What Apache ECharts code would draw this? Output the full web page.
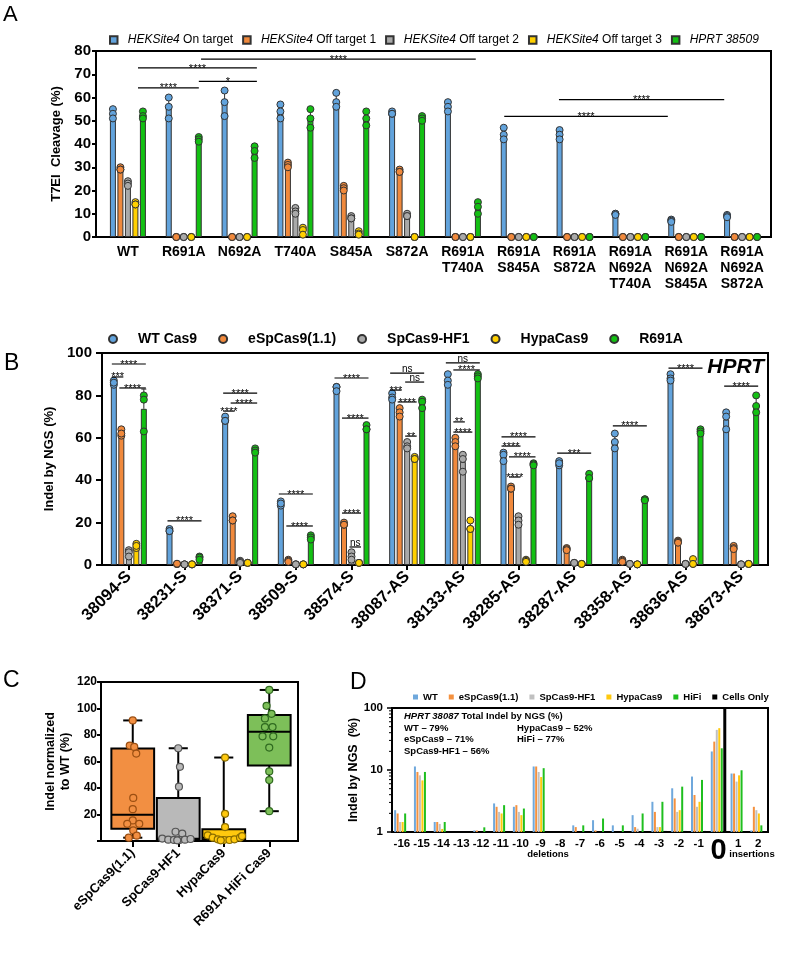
<!DOCTYPE html>
<html><head><meta charset="utf-8">
<script src="https://cdn.jsdelivr.net/npm/echarts@6/dist/echarts.min.js"></script>
<style>html,body{margin:0;padding:0;background:#fff}#c{width:800px;height:960px}</style>
</head><body><div id="c"></div>
<script>
const FONT = '"Liberation Sans", Arial, Helvetica, sans-serif';

// ---------------- Panel A data ----------------
const catsA = ['WT','R691A','N692A','T740A','S845A','S872A','R691A\nT740A','R691A\nS845A','R691A\nS872A','R691A\nN692A\nT740A','R691A\nN692A\nS845A','R691A\nN692A\nS872A'];
const namesA = ['HEKSite4 On target','HEKSite4 Off target 1','HEKSite4 Off target 2','HEKSite4 Off target 3','HPRT 38509'];
const aOnTarget = [[55,53,51],[60,56,51],[63,58,52],[57,54,51],[62,58,56],[54,53,53],[58,56,54],[47,44,42],[46,44,42],[10,10,9.5],[7.5,7,6.5],[9.5,9,8.5]];
const aOff1 = [[30,29,29],[0,0,0],[0,0,0],[32,31,30],[22,21,20],[29,28,28],[0,0,0],[0,0,0],[0,0,0],[0,0,0],[0,0,0],[0,0,0]];
const aOff2 = [[24,23,22],[0,0,0],[0,0,0],[12.5,11,10],[9,8,8],[10,9,9],[0,0,0],[0,0,0],[0,0,0],[0,0,0],[0,0,0],[0,0,0]];
const aOff3 = [[15,14,14],[0,0,0],[0,0,0],[4,3,1],[2.5,1.5,1],[0,0,0],[0,0,0],[0,0,0],[0,0,0],[0,0,0],[0,0,0],[0,0,0]];
const aHprt = [[54,52,51],[43,42,41],[39,37,34],[55,51,47],[54,51,48],[52,51,50],[15,13,10],[0,0,0],[0,0,0],[0,0,0],[0,0,0],[0,0,0]];
const yTicksA = {min:0, max:80, interval:10};
// significance bars: [from (category units), to (category units), value, label]
const sigA = [[0.18,1.27,64.1,'****'],[0.18,2.31,72.7,'****'],[1.27,2.31,66.9,'*'],[1.31,6.23,76.5,'****'],[6.74,9.67,51.9,'****'],[7.72,10.68,59.1,'****']];

// ---------------- Panel B data ----------------
const catsB = ['38094-S','38231-S','38371-S','38509-S','38574-S','38087-AS','38133-AS','38285-AS','38287-AS','38358-AS','38636-AS','38673-AS'];
const namesB = ['WT Cas9','eSpCas9(1.1)','SpCas9-HF1','HypaCas9','R691A'];
const bWT = [[87,85,86],[17,16,16],[70,68,68],[30,28,29],[84,84,82],[81,79,78],[90,87,85],[53,52,49],[49,47,48],[62,58,55],[90,88,87],[72,70,64]];
const bESp = [[64,61,62],[0.5,0.4,0.6],[23,21,21],[2.5,2,1.5],[20,19,19],[74,72,70],[60,58,56],[37,36,36],[8,7.5,7],[2.5,2,1.5],[11.5,11,10.5],[9,8,7.5]];
const bHF1 = [[7,6,4],[0.3,0.3,0.3],[2,1.5,1],[0.3,0.3,0.3],[6,4,2.5],[58,56,55],[52,50,44],[23,21,19],[1,1,1],[0.5,0.5,0.5],[0.5,0.5,0.5],[0.3,0.3,0.3]];
const bHypa = [[10,8,9],[0.3,0.3,0.3],[1,1,1],[0.3,0.3,0.3],[1,1,1],[51,50,50],[21,17,17],[2.5,2,1.5],[0.5,0.5,0.5],[0.3,0.3,0.3],[2.8,0.5,0.5],[0.5,0.5,0.5]];
const bR691A = [[80,78,63],[4,3.5,2.5],[55,54,53],[14,13,12],[66,64,64],[78,77,74],[90,89,88],[48,47.5,47],[43,41,41],[31,31,30.5],[64,63,62],[80,75,72]];
const yTicksB = {min:0, max:100, interval:20};
// [category, from bar slot, to bar slot, value, label]
const sigB = [
 [0,0,4,94.8,'****'],[0,0,1,88.7,'***'],[0,1,4,83.5,'****'],
 [1,0,4,20.8,'****'],
 [2,0,4,81.1,'****'],[2,1,4,76.4,'****'],[2,0,1,72.6,'****'],
 [3,0,4,33.5,'****'],[3,1,4,18.4,'****'],
 [4,0,4,88.2,'****'],[4,1,4,69.3,'****'],[4,1,3,24.5,'****'],[4,2,3,8.5,'ns'],
 [5,0,4,90.5,'ns'],[5,2,4,86.3,'ns'],[5,0,1,82.5,'***'],[5,1,3,76.9,'****'],[5,2,3,60.8,'**'],
 [6,0,4,95.3,'ns'],[6,1,4,92,'****'],[6,1,2,67.5,'**'],[6,1,3,62.7,'****'],
 [7,0,4,60.4,'****'],[7,0,2,56.1,'****'],[7,1,4,51,'****'],[7,1,2,41.5,'****'],
 [8,0,4,52.8,'***'],[9,0,4,65.6,'****'],[10,0,4,92.9,'****'],[11,0,4,84.4,'****']
];

// ---------------- Panel C data ----------------
const catsC = ['eSpCas9(1.1)','SpCas9-HF1','HypaCas9','R691A HiFi Cas9'];
const cESp = [91,72,71,66,32.5,24,15.5,13,13,8,4,2.5];
const cHF1 = [70,56,41,7,5.5,1.8,1,0.8,0.8,1,1.5,0.5];
const cHypa = [63,20.5,10.5,4.25,2.5,1.25,0.75,0.75,1.25,2.5,3.75,0.5];
const cHiFi = [114,102,96,92.5,86,86,79,79,70.5,52.5,46,22.5];
const yTicksC = {min:0, max:120, interval:20};

// ---------------- Panel D data ----------------
const catsD = ['-16','-15','-14','-13','-12','-11','-10','-9','-8','-7','-6','-5','-4','-3','-2','-1','0','1','2'];
const namesD = ['WT','eSpCas9(1.1)','SpCas9-HF1','HypaCas9','HiFi','Cells Only'];
const dWT   = [2.25,11.4,1.45,null,1.06,2.89,2.55,11.4,null,1.28,1.55,1.28,1.87,3.07,5.07,7.84,19.9,8.77,1.06];
const dESp  = [1.99,9.3,1.45,null,1.06,2.55,2.71,11.4,null,1.2,1.06,null,1.2,2.11,3.48,3.95,28.7,8.77,2.55];
const dHF1  = [1.45,8.2,1.35,null,null,2.11,2.11,9.3,null,null,null,null,1.13,1.2,2.11,2.55,44.4,6.5,2.25];
const dHypa = [1.45,6.8,1.12,null,null,1.99,1.87,7.7,null,null,null,null,null,1.2,2.25,3.07,47.3,8.2,1.99];
const dHiFi = [1.99,9.3,1.45,null,1.19,2.71,2.39,10.7,null,1.28,1.65,1.28,1.99,3.07,5.39,6.92,22.4,9.9,1.28];
const dCells= [null,null,null,null,null,null,null,null,null,null,null,null,null,1.04,1.04,1.04,100,null,null];
const minorTicksD = [2,3,4,5,6,7,8,9,20,30,40,50,60,70,80,90];
const totalsD = ['WT – 79%','eSpCas9 – 71%','SpCas9-HF1 – 56%','HypaCas9 – 52%','HiFi – 77%'];

// ---------------- styles ----------------
const COLS = ['#62a3dc','#f0893c','#a9a9a9','#ffd000','#13c013'];
const COLS_D = ['#6fa8dc','#f4913f','#c0c0c0','#ffc90e','#1fbf1f','#000000'];
const COLS_C = [['#f28f42','#9c4f12'],['#b9b9b9','#555555'],['#ffc90e','#8a6d00'],['#7dbf59','#2f6a1f']];
const JIT_C = [[0,-3,1.5,3.5,0.5,0,0,-5.5,6.5,0.5,4,-4],[0,1.7,0.7,-2.7,4,-16,-10,-4.3,1.3,6.7,12.3,-1],[1.3,1.3,1.3,-16,-11,-6,0,5.7,10.7,16.3,18.3,-3],[0,-2.7,2.3,-4.3,-4.3,3.3,-6.7,4,0,0,0,0]];
const SLOT = 7.5;

const mean = a => a.reduce((s,v)=>s+v,0)/a.length;
const sd = a => { const m = mean(a); return Math.sqrt(a.reduce((s,v)=>s+(v-m)*(v-m),0)/(a.length-1)); };
function quant(s, p){ const pos=(s.length+1)*p; const i=Math.floor(pos); const f=pos-i; if(i<1) return s[0]; if(i>=s.length) return s[s.length-1]; return s[i-1]+f*(s[i]-s[i-1]); }

const series = [];
function addReplicatePanel(sets, names, xi, yi){
  sets.forEach((arr,s)=>series.push({type:'bar',name:names[s],xAxisIndex:xi,yAxisIndex:yi,data:arr.map(mean),barWidth:6,barGap:'25%',
    itemStyle:{color:COLS[s],borderColor:'#333',borderWidth:1},z:2}));
  // error bars (mean + SD, upper half)
  const errs=[]; sets.forEach((arr,s)=>arr.forEach((r,i)=>errs.push([s,i,mean(r),sd(r)])));
  series.push({type:'custom',xAxisIndex:xi,yAxisIndex:yi,data:errs.map(()=>[0,0]),z:3,clip:false,
    renderItem:(p,api)=>{const e=errs[p.dataIndex]; if(e[3]<0.6) return null;
      const c=api.coord([e[1],e[2]]); const t=api.coord([e[1],e[2]+e[3]]); const x=c[0]+(e[0]-2)*SLOT;
      return {type:'group',children:[
        {type:'line',shape:{x1:x,y1:c[1],x2:x,y2:t[1]},style:{stroke:'#333',lineWidth:1}},
        {type:'line',shape:{x1:x-2.5,y1:t[1],x2:x+2.5,y2:t[1]},style:{stroke:'#333',lineWidth:1}}]};}});
  sets.forEach((arr,s)=>{const pts=[];arr.forEach((r,i)=>r.forEach(v=>pts.push([i,v])));
    series.push({type:'scatter',name:names[s],xAxisIndex:xi,yAxisIndex:yi,data:pts,symbolSize:7,symbolOffset:[(s-2)*SLOT,0],
    itemStyle:{color:COLS[s],borderColor:'#333',borderWidth:1,opacity:1},z:4});});
}
addReplicatePanel([aOnTarget,aOff1,aOff2,aOff3,aHprt], namesA, 1, 1);
addReplicatePanel([bWT,bESp,bHF1,bHypa,bR691A], namesB, 3, 3);

// ---- significance renderers
function sigText(label, xm, y){
  const isNs = label==='ns';
  return {type:'text',style:{text:label,x:xm,y:isNs? y+1.5 : y+0.5,align:'center',verticalAlign:isNs?'bottom':'middle',
    fontSize:isNs?10:11,fontFamily:FONT,fill:'#000'}};
}
series.push({type:'custom',xAxisIndex:1,yAxisIndex:1,data:sigA.map(()=>[0,0]),z:5,clip:false,
  renderItem:(p,api)=>{const d=sigA[p.dataIndex];const bw=api.size([1,0])[0];
    const xAt=f=>{const i=Math.floor(f);return api.coord([i,d[2]])[0]+(f-i)*bw;};
    const y=api.coord([0,d[2]])[1];const x1=xAt(d[0]),x2=xAt(d[1]);
    return {type:'group',children:[{type:'line',shape:{x1,y1:y,x2,y2:y},style:{stroke:'#000',lineWidth:1.3}},sigText(d[3],(x1+x2)/2,y)]};}});
series.push({type:'custom',xAxisIndex:3,yAxisIndex:3,data:sigB.map(()=>[0,0]),z:5,clip:false,
  renderItem:(p,api)=>{const d=sigB[p.dataIndex];const c=api.coord([d[0],d[3]]);
    const x1=c[0]+(d[1]-2)*SLOT-2,x2=c[0]+(d[2]-2)*SLOT+2,y=c[1];
    return {type:'group',children:[{type:'line',shape:{x1,y1:y,x2,y2:y},style:{stroke:'#000',lineWidth:1.2}},sigText(d[4],(x1+x2)/2,y)]};}});

// ---- C boxes & dots
const setsC = [cESp,cHF1,cHypa,cHiFi];
const statsC = setsC.map(a=>{const s=[...a].sort((x,y)=>x-y);return [s[0],quant(s,0.25),quant(s,0.5),quant(s,0.75),s[s.length-1]];});
series.push({type:'custom',xAxisIndex:5,yAxisIndex:5,data:catsC.map((c,i)=>[i,0]),z:2,clip:false,
  renderItem:(p,api)=>{const i=p.dataIndex;const st=statsC[i];const cx=api.coord([i,0])[0];const Y=v=>api.coord([i,v])[1];
    const bw=api.size([1,0])[0]*0.94, cap=api.size([1,0])[0]*0.42;
    const ln=(x1,y1,x2,y2)=>({type:'line',shape:{x1,y1,x2,y2},style:{stroke:'#000',lineWidth:2}});
    return {type:'group',children:[
      ln(cx,Y(st[4]),cx,Y(st[0])),
      {type:'rect',shape:{x:cx-bw/2,y:Y(st[3]),width:bw,height:Y(st[1])-Y(st[3])},style:{fill:COLS_C[i][0],stroke:'#000',lineWidth:2}},
      ln(cx-bw/2,Y(st[2]),cx+bw/2,Y(st[2])),
      ln(cx-cap/2,Y(st[4]),cx+cap/2,Y(st[4])),
      ln(cx-cap/2,Y(st[0]),cx+cap/2,Y(st[0]))]};}});
setsC.forEach((a,g)=>series.push({type:'scatter',name:'C'+g,xAxisIndex:5,yAxisIndex:5,symbolSize:7,z:4,
  data:a.map((v,k)=>({value:[g,v],symbolOffset:[JIT_C[g][k],0]})),
  itemStyle:{color:COLS_C[g][0],borderColor:COLS_C[g][1],borderWidth:1.2,opacity:1}}));

// ---- D bars
const setsD = [dWT,dESp,dHF1,dHypa,dHiFi,dCells];
setsD.forEach((arr,s)=>series.push({type:'bar',name:'D:'+namesD[s],xAxisIndex:6,yAxisIndex:6,data:arr,barWidth:s===5?3:2,barGap:'25%',
  itemStyle:{color:COLS_D[s]},z:2}));
series.push({type:'custom',xAxisIndex:6,yAxisIndex:6,data:minorTicksD.map(v=>[0,v]),clip:false,z:5,
  renderItem:(p,api)=>{const v=minorTicksD[p.dataIndex];const c=api.coord([0,v]);const x=c[0]-api.size([1,0])[0]/2;
    return {type:'line',shape:{x1:x-3,y1:c[1],x2:x,y2:c[1]},style:{stroke:'#000',lineWidth:1}};}});

// ---------------- axes ----------------
const hiddenVal = i => ({type:'value',gridIndex:i,min:0,max:1,show:false});
const yVisible = (i, t, extra) => Object.assign({type:'value',gridIndex:i,min:t.min,max:t.max,interval:t.interval,
  axisLine:{show:true,lineStyle:{color:'#000',width:2}},axisTick:{show:true,length:5,lineStyle:{color:'#000',width:2}},
  splitLine:{show:false},axisLabel:{color:'#000',fontFamily:FONT,fontWeight:'bold'},
  nameLocation:'middle',nameRotate:90,nameTextStyle:{color:'#000',fontFamily:FONT,fontWeight:'bold',fontSize:13}}, extra);
const yHidden = (i,t) => ({type:'value',gridIndex:i,min:t.min,max:t.max,show:false});

const xAxis = [
  hiddenVal(0),
  {type:'category',gridIndex:1,data:catsA,axisLine:{show:false},axisTick:{show:false},
    axisLabel:{color:'#000',fontFamily:FONT,fontWeight:'bold',fontSize:14,lineHeight:16,margin:7,interval:0}},
  hiddenVal(2),
  {type:'category',gridIndex:3,data:catsB,axisLine:{show:false},axisTick:{show:true,alignWithLabel:true,length:5,lineStyle:{color:'#000',width:2}},
    axisLabel:{color:'#000',fontFamily:FONT,fontWeight:'bold',fontSize:16.5,rotate:45,margin:9,interval:0}},
  hiddenVal(4),
  {type:'category',gridIndex:5,data:catsC,axisLine:{show:false},axisTick:{show:true,alignWithLabel:true,length:6,lineStyle:{color:'#000',width:2}},
    axisLabel:{color:'#000',fontFamily:FONT,fontWeight:'bold',fontSize:13,rotate:45,margin:10,interval:0}},
  {type:'category',gridIndex:6,data:catsD,axisLine:{show:false},axisTick:{show:false},
    axisLabel:{color:'#000',fontFamily:FONT,fontWeight:'bold',fontSize:11.5,margin:6,interval:0,
      formatter:v=>v==='0'?'{z|0}':v,rich:{z:{fontSize:29,fontWeight:'bold',fontFamily:FONT,color:'#000',lineHeight:26}}}}
];
const yAxis = [
  yVisible(0,yTicksA,{name:'T7EI  Cleavage (%)',nameGap:31,axisTick:{show:true,length:4,lineStyle:{color:'#000',width:2}},axisLabel:{color:'#000',fontFamily:FONT,fontWeight:'bold',fontSize:15,margin:5}}),
  yHidden(1,yTicksA),
  yVisible(2,yTicksB,{name:'Indel by NGS (%)',nameGap:38,axisTick:{show:true,length:6,lineStyle:{color:'#000',width:2}},axisLabel:{color:'#000',fontFamily:FONT,fontWeight:'bold',fontSize:15,margin:10}}),
  yHidden(3,yTicksB),
  yVisible(4,yTicksC,{name:'Indel normalized\nto WT (%)',nameGap:22,nameTextStyle:{color:'#000',fontFamily:FONT,fontWeight:'bold',fontSize:12.5,lineHeight:15},
    axisTick:{show:true,length:4,lineStyle:{color:'#000',width:2}},axisLabel:{color:'#000',fontFamily:FONT,fontWeight:'bold',fontSize:12,margin:4,formatter:v=>v===0?'':v}}),
  yHidden(5,yTicksC),
  {type:'log',gridIndex:6,logBase:10,min:1,max:100,axisLine:{show:true,lineStyle:{color:'#000',width:2}},
    axisTick:{show:true,length:5,lineStyle:{color:'#000',width:1.5}},splitLine:{show:false},
    axisLabel:{color:'#000',fontFamily:FONT,fontWeight:'bold',fontSize:11.5,margin:9},
    name:'Indel by NGS  (%)',nameLocation:'middle',nameRotate:90,nameGap:24,nameTextStyle:{color:'#000',fontFamily:FONT,fontWeight:'bold',fontSize:12.5}}
];
const frame = {show:true,borderColor:'#000',borderWidth:2,backgroundColor:'transparent',containLabel:false};
const grid = [
  Object.assign({left:96,top:51,width:675,height:186},frame),
  {left:100,top:51,width:670,height:186},
  Object.assign({left:102,top:353,width:666,height:212},frame),
  {left:101,top:353,width:668,height:212},
  Object.assign({left:101,top:682,width:197,height:159},frame),
  {left:110,top:682,width:182,height:159},
  Object.assign({left:392,top:708,width:376,height:124},frame)
];

const legend = [
  {data:namesA,left:104,top:29,icon:'path://M0,0H10V10H0Z',itemWidth:18,itemHeight:7.5,itemGap:9,selectedMode:false,
    formatter:n=>n.indexOf('HEKSite4')===0?'{i|HEKSite4}'+n.slice(8):'{i|'+n+'}',
    textStyle:{fontFamily:FONT,fontSize:12,color:'#000',rich:{i:{fontFamily:FONT,fontSize:12,fontStyle:'italic',color:'#000'}}}},
  {data:namesB,left:103,top:327,icon:'circle',itemWidth:40,itemHeight:8,itemGap:21,selectedMode:false,
    textStyle:{fontFamily:FONT,fontSize:14,fontWeight:'bold',color:'#000'}},
  {data:namesD.map(n=>'D:'+n),left:408,top:687,icon:'rect',itemWidth:5,itemHeight:5,itemGap:11,selectedMode:false,
    formatter:n=>n.slice(2),textStyle:{fontFamily:FONT,fontSize:9.5,fontWeight:'bold',color:'#000'}}
];

const txt = (x,y,text,size,extra) => ({type:'text',x:x,y:y,style:Object.assign({text:text,fontFamily:FONT,fontSize:size,fill:'#000'},extra||{})});
const graphic = [
  txt(3,4,'A',22),
  txt(4,352,'B',23),
  txt(3,669,'C',23),
  txt(350,671,'D',23),
  txt(764,357,'HPRT',21,{fontWeight:'bold',fontStyle:'italic',align:'right'}),
  txt(404,711,'{i|HPRT 38087} Total Indel by NGS (%)',9.5,{fontWeight:'bold',rich:{i:{fontStyle:'italic',fontWeight:'bold',fontSize:9.5,fontFamily:FONT}}}),
  txt(404,723,totalsD[0],9.5,{fontWeight:'bold'}),
  txt(404,734.5,totalsD[1],9.5,{fontWeight:'bold'}),
  txt(404,746,totalsD[2],9.5,{fontWeight:'bold'}),
  txt(517,723,totalsD[3],9.5,{fontWeight:'bold'}),
  txt(517,734.5,totalsD[4],9.5,{fontWeight:'bold'}),
  txt(548,849,'deletions',9.5,{fontWeight:'bold',align:'center'}),
  txt(752,849,'insertions',9.5,{fontWeight:'bold',align:'center'})
];

const chart = echarts.init(document.getElementById('c'), null, {renderer:'canvas',width:800,height:960});
chart.setOption({backgroundColor:'#fff',animation:false,textStyle:{fontFamily:FONT},
  grid, xAxis, yAxis, legend, series, graphic});
</script></body></html>
